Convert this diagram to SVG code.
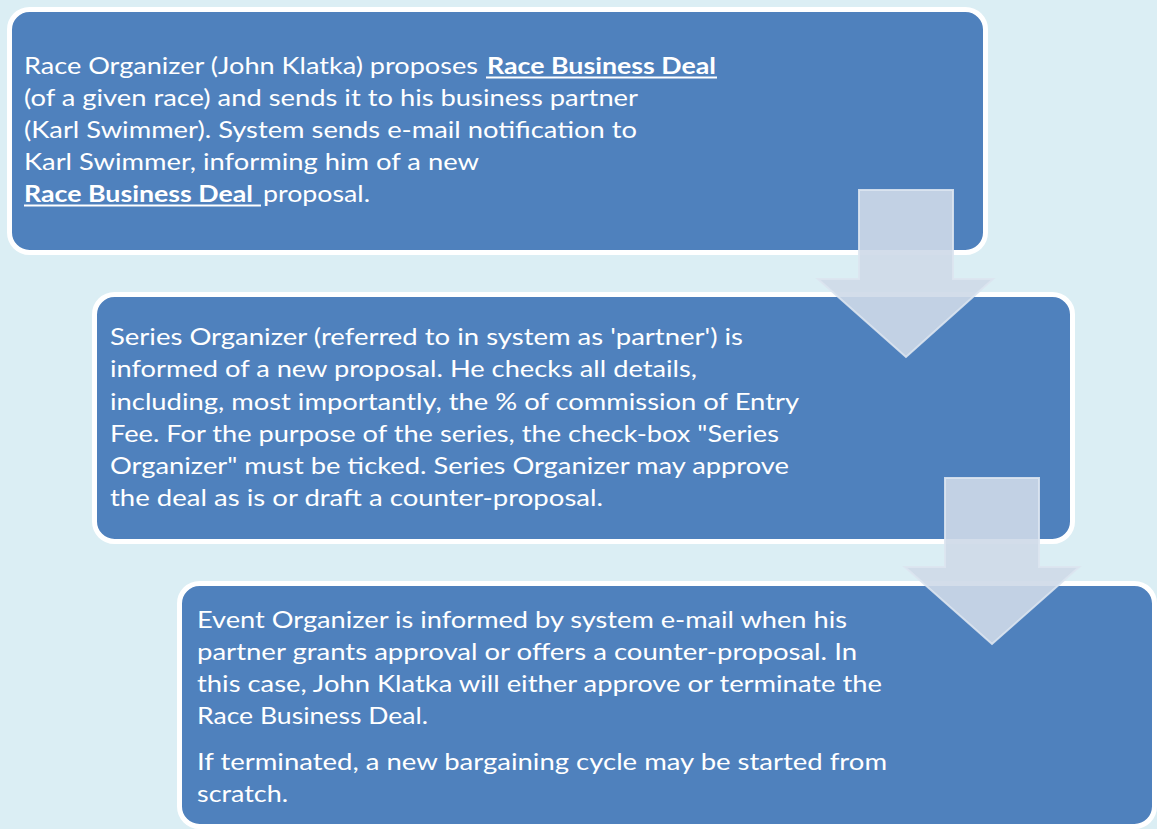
<svg xmlns="http://www.w3.org/2000/svg" width="1157" height="829" viewBox="0 0 1157 829">
<style>
.box{fill:#4F81BD;stroke:#FFFFFF;stroke-width:5}
.t{font-family:Lato,"Open Sans","Liberation Sans",sans-serif;font-size:23px;fill:#FFFFFF}
.b{font-weight:bold}
.ul{stroke:#FFFFFF;stroke-width:2}
.arr{fill:#CED9E8;fill-opacity:0.9;stroke:#DCE4EF;stroke-opacity:0.9;stroke-width:2;stroke-linejoin:miter}
</style>
<rect x="0" y="0" width="1157" height="829" fill="#DBEEF4"/>
<g id="node1">
<rect class="box" x="9.5" y="9.5" width="976" height="243" rx="20" ry="20"/>
<text class="t" x="24" y="74" textLength="454" lengthAdjust="spacingAndGlyphs">Race Organizer (John Klatka) proposes</text>
<text class="t b" x="487" y="74" textLength="229" lengthAdjust="spacingAndGlyphs">Race Business Deal</text>
<line class="ul" x1="486" y1="77.5" x2="717" y2="77.5"/>
<text class="t" x="24" y="106" textLength="614" lengthAdjust="spacingAndGlyphs">(of a given race) and sends it to his business partner</text>
<text class="t" x="24" y="138" textLength="613" lengthAdjust="spacingAndGlyphs">(Karl Swimmer). System sends e-mail notification to</text>
<text class="t" x="24" y="170" textLength="455" lengthAdjust="spacingAndGlyphs">Karl Swimmer, informing him of a new</text>
<text class="t b" x="24" y="202" textLength="229" lengthAdjust="spacingAndGlyphs">Race Business Deal</text>
<line class="ul" x1="24" y1="205.5" x2="261" y2="205.5"/>
<text class="t" x="263" y="202" textLength="107" lengthAdjust="spacingAndGlyphs">proposal.</text>
</g>
<g id="node2">
<rect class="box" x="94.5" y="294.5" width="978" height="247" rx="20" ry="20"/>
<text class="t" x="110" y="345" textLength="633" lengthAdjust="spacingAndGlyphs">Series Organizer (referred to in system as 'partner') is</text>
<text class="t" x="110" y="377" textLength="587" lengthAdjust="spacingAndGlyphs">informed of a new proposal. He checks all details,</text>
<text class="t" x="110" y="410" textLength="689" lengthAdjust="spacingAndGlyphs">including, most importantly, the % of commission of Entry</text>
<text class="t" x="110" y="442" textLength="669" lengthAdjust="spacingAndGlyphs">Fee. For the purpose of the series, the check-box "Series</text>
<text class="t" x="110" y="474" textLength="679" lengthAdjust="spacingAndGlyphs">Organizer" must be ticked. Series Organizer may approve</text>
<text class="t" x="110" y="506" textLength="493" lengthAdjust="spacingAndGlyphs">the deal as is or draft a counter-proposal.</text>
</g>
<g id="node3">
<rect class="box" x="179.5" y="583.5" width="975" height="243" rx="20" ry="20"/>
<text class="t" x="197" y="628" textLength="650" lengthAdjust="spacingAndGlyphs">Event Organizer is informed by system e-mail when his</text>
<text class="t" x="197" y="660" textLength="660" lengthAdjust="spacingAndGlyphs">partner grants approval or offers a counter-proposal. In</text>
<text class="t" x="197" y="692" textLength="685" lengthAdjust="spacingAndGlyphs">this case, John Klatka will either approve or terminate the</text>
<text class="t" x="197" y="724" textLength="231" lengthAdjust="spacingAndGlyphs">Race Business Deal.</text>
<text class="t" x="197" y="770" textLength="690" lengthAdjust="spacingAndGlyphs">If terminated, a new bargaining cycle may be started from</text>
<text class="t" x="197" y="802" textLength="91" lengthAdjust="spacingAndGlyphs">scratch.</text>
</g>
<g id="connectors">
<polygon id="arrow1" class="arr" points="859,190 953,190 953,279 993,279 906,357 818,279 859,279"/>
<polygon id="arrow2" class="arr" points="945,478 1039,478 1039,567 1079,567 992,644 905,567 945,567"/>
</g>
</svg>
